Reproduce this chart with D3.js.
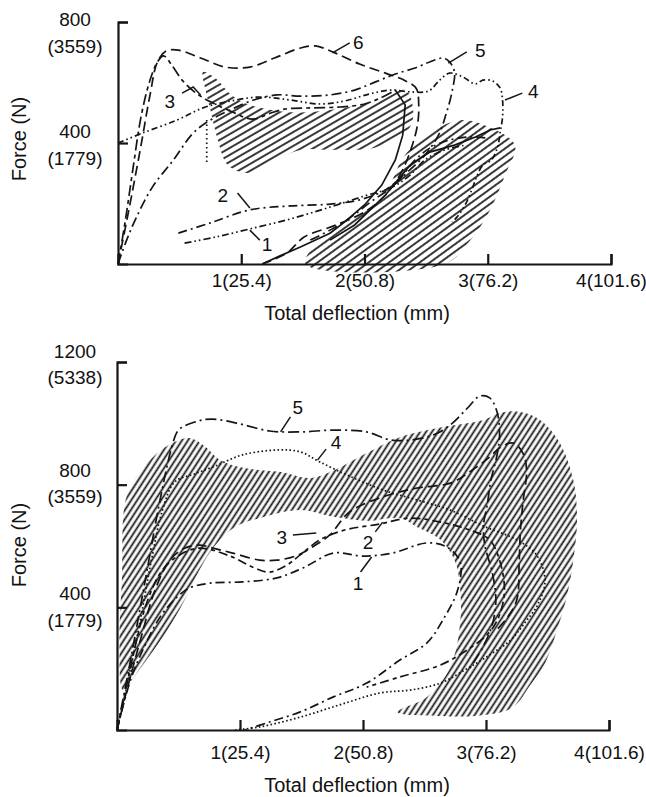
<!DOCTYPE html>
<html><head><meta charset="utf-8">
<script src="https://cdn.jsdelivr.net/npm/d3@7"></script>
<style>
html,body{margin:0;padding:0;background:#fff;}
svg{display:block;}
text{font-family:"Liberation Sans",Arial,Helvetica,sans-serif;fill:#111;}
</style></head><body>
<svg id="fig" width="646" height="797"></svg>
<script>
// ---------- shared axis text ----------
const xTickValues = [1, 2, 3, 4];
const xTickLabels = ["1(25.4)", "2(50.8)", "3(76.2)", "4(101.6)"];
const xTitle = "Total deflection (mm)";
const yTitle = "Force (N)";

// ---------- upper panel: deflection (in), force (lbf) ----------
const upperYTicks = [400, 800];
const upperYLabels = [["400", "(1779)"], ["800", "(3559)"]];

const upper6 = [[0,0],[0.08,162],[0.18,377],[0.26,559],[0.32,668],[0.39,704],[0.49,707],[0.67,681],[0.87,651],[1.07,651],[1.27,681],[1.48,714],[1.60,721],[1.76,698],[1.96,661],[2.17,631],[2.33,606],[2.42,580],[2.44,526],[2.43,460],[2.38,383],[2.30,304],[2.17,228],[2.00,172],[1.77,129],[1.51,89],[1.37,36],[1.17,0]];
const upper5 = [[0,0],[0.07,79],[0.15,155],[0.28,255],[0.45,344],[0.61,433],[0.75,476],[0.91,509],[1.10,542],[1.29,559],[1.48,555],[1.72,559],[1.92,575],[2.09,602],[2.25,628],[2.41,648],[2.53,668],[2.64,681],[2.69,668],[2.73,635],[2.71,569],[2.66,493],[2.60,426],[2.49,360],[2.35,304],[2.21,251],[2.04,202],[1.88,152],[1.72,112],[1.56,79]];
const upper4 = [[0,400],[0.20,433],[0.48,476],[0.69,516],[0.88,536],[1.15,552],[1.40,542],[1.64,529],[1.84,539],[2.04,562],[2.21,575],[2.37,569],[2.52,572],[2.61,608],[2.69,631],[2.80,618],[2.90,595],[2.96,608],[3.04,605],[3.10,582],[3.12,542],[3.12,486],[3.10,433],[3.08,387],[3.03,344],[2.96,327],[2.91,288],[2.87,245],[2.82,198],[2.75,155],[2.71,139]];
const upper3 = [[0,0],[0.06,145],[0.12,311],[0.19,493],[0.26,608],[0.32,668],[0.37,688],[0.44,655],[0.52,608],[0.62,569],[0.75,536],[0.91,506],[1.09,479],[1.22,496],[1.35,512],[1.56,516],[1.80,519],[2.00,529],[2.13,549],[2.25,575]];
const upper3Return = [[2.25,575],[2.33,526],[2.31,426],[2.25,344],[2.14,261],[2.00,195],[1.84,139],[1.72,102],[1.48,56],[1.31,26],[1.17,0]];
const upper2 = [[0.49,102],[0.75,136],[1.07,179],[1.40,192],[1.72,198],[1.96,212],[2.17,245],[2.29,284],[2.41,344],[2.53,383],[2.69,410],[2.86,420],[2.98,417]];
const upper1 = [[0.54,69],[0.79,89],[1.07,116],[1.40,149],[1.72,188],[2.00,225],[2.21,251],[2.37,294],[2.49,344],[2.65,377],[2.82,393]];
const upperTrace = [[1.72,79],[1.92,129],[2.06,185],[2.17,228],[2.27,278],[2.37,327],[2.53,370],[2.73,393],[2.90,420],[3.02,443],[3.10,450]];
const upperDrop = [[0.72,476],[0.72,327]];

// crushed-zone outlines (hatched)
const upperZoneA = [[0.69,635],[0.79,615],[0.92,559],[1.07,526],[1.40,502],[1.72,509],[2.13,542],[2.33,575],[2.39,526],[2.37,453],[2.10,387],[1.74,377],[1.48,377],[1.23,334],[1.05,301],[0.89,327],[0.81,410],[0.75,509],[0.71,575]];
const upperZoneB = [[1.52,0],[1.64,79],[1.91,152],[2.18,245],[2.31,350],[2.45,410],[2.61,453],[2.80,476],[2.99,456],[3.22,393],[3.14,294],[3.02,179],[2.86,79],[2.65,0]];

// ---------- lower panel ----------
const lowerYTicks = [400, 800, 1200];
const lowerYLabels = [["400", "(1779)"], ["800", "(3559)"], ["1200", "(5338)"]];

const lower5 = [[0,0],[0.11,228],[0.23,489],[0.35,750],[0.45,929],[0.50,978],[0.63,1004],[0.77,1014],[1.00,998],[1.24,975],[1.49,972],[1.77,978],[2.03,972],[2.22,946],[2.40,946],[2.59,965],[2.72,998],[2.85,1050],[2.95,1089],[3.03,1083],[3.09,1037],[3.11,962],[3.09,897],[3.04,815],[3.01,734],[2.98,668],[2.99,603],[3.05,515],[3.08,424],[3.05,342],[2.97,267],[2.87,202]];
const lower4 = [[0,0],[0.09,163],[0.19,359],[0.28,554],[0.37,717],[0.47,809],[0.63,835],[0.80,861],[1.02,897],[1.30,913],[1.49,907],[1.65,874],[1.89,828],[2.16,783],[2.44,750],[2.71,717],[2.98,665],[3.25,620],[3.41,571],[3.48,489],[3.42,408],[3.32,352],[3.20,293],[3.03,245],[2.83,196],[2.63,153],[2.38,130],[2.14,121],[1.81,82],[1.49,42],[1.16,10],[0.96,0]];
const lower3 = [[0,0],[0.08,130],[0.19,293],[0.31,457],[0.43,554],[0.55,593],[0.67,603],[0.78,593],[0.94,577],[1.16,554],[1.30,554],[1.45,567],[1.59,597],[1.73,636],[1.89,711],[2.16,760],[2.44,789],[2.71,805],[2.89,848],[3.03,890],[3.11,920],[3.22,936],[3.30,903],[3.33,848],[3.30,740],[3.28,652],[3.27,554],[3.25,424],[3.17,365],[3.07,320]];
const lower2 = [[0,0],[0.07,130],[0.15,277],[0.25,424],[0.37,522],[0.51,571],[0.67,593],[0.92,567],[1.12,528],[1.24,515],[1.37,535],[1.49,571],[1.65,620],[1.85,652],[2.14,672],[2.38,691],[2.63,678],[2.87,652],[3.03,620],[3.11,554],[3.15,457],[3.11,375],[3.03,320],[2.87,267],[2.63,212],[2.30,173],[2.03,140]];
const lower1 = [[0,0],[0.11,163],[0.21,261],[0.35,368],[0.49,434],[0.59,463],[0.76,479],[1.02,483],[1.30,496],[1.51,528],[1.76,577],[2.00,567],[2.24,577],[2.52,610],[2.68,597],[2.79,548],[2.77,457],[2.65,359],[2.52,284],[2.30,228],[2.03,153],[1.76,108],[1.49,59],[1.24,26],[1.04,0]];

const lowerZone = [[0.07,750],[0.17,832],[0.31,897],[0.45,936],[0.59,952],[0.72,923],[0.84,880],[1.04,854],[1.33,841],[1.57,822],[1.77,848],[2.03,903],[2.30,955],[2.65,988],[2.98,1011],[3.11,1034],[3.28,1037],[3.44,1011],[3.60,936],[3.71,815],[3.74,685],[3.71,554],[3.66,440],[3.59,342],[3.48,218],[3.36,147],[3.21,72],[2.91,46],[2.63,46],[2.28,59],[2.52,108],[2.71,205],[2.79,349],[2.79,457],[2.75,548],[2.63,620],[2.44,662],[2.30,691],[2.03,682],[1.76,695],[1.49,717],[1.20,695],[0.96,662],[0.80,603],[0.67,522],[0.55,424],[0.41,326],[0.27,245],[0.15,179],[0.05,130],[0.02,293],[0.04,489]];

// ---------- panel layout ----------
const panels = [
  { xr:[118,611], yr:[264,22], fMax:800, ticks:upperYTicks, tickText:upperYLabels,
    labelShift:[[-12,15],[-3,24]], xPad:10, xTitleY:313, yTitleY:139,
    hatch:[{pts:upperZoneA, angle:30, gap:6, w:1.7},{pts:upperZoneB, angle:36, gap:6, w:1.7}],
    curves:[
      {pts:upper6, dash:"10,5"},
      {pts:upper5, dash:"10,4,2,4"},
      {pts:upper4, dash:"6,3,1.6,3,1.6,3"},
      {pts:upper3, dash:"11,4,4,4"},
      {pts:upper3Return, dash:null, jag:true},
      {pts:upper2, dash:"9,4,2,4"},
      {pts:upper1, dash:"7,3,1.6,3,1.6,3"},
      {pts:upperTrace, dash:null, jag:true},
      {pts:upperDrop, dash:"1.5,3"}
    ],
    notes:[
      {t:"6", at:[1.95,731], lead:[[1.74,698],[1.88,731]]},
      {t:"5", at:[2.94,707], lead:[[2.68,664],[2.83,701]]},
      {t:"4", at:[3.37,569], lead:[[3.14,542],[3.28,565]]},
      {t:"3", at:[0.42,536], lead:[[0.52,565],[0.61,585],[0.67,559]]},
      {t:"2", at:[0.85,228], lead:[[0.97,235],[1.07,185]]},
      {t:"1", at:[1.21,63], lead:[[1.07,112],[1.15,79]]}
    ]},
  { xr:[117,609], yr:[730,362], fMax:1200, ticks:lowerYTicks, tickText:lowerYLabels,
    labelShift:[[-14,13],[-14,12],[-11,15]], xPad:16, xTitleY:785, yTitleY:545,
    hatch:[{pts:lowerZone, angle:57, gap:5, w:1.8}],
    curves:[
      {pts:lower5, dash:"11,4,2,4"},
      {pts:lower4, dash:"1.6,2.4"},
      {pts:lower3, dash:"10,5"},
      {pts:lower2, dash:"9,4,4,4"},
      {pts:lower1, dash:"9,4,2,4"}
    ],
    notes:[
      {t:"5", at:[1.47,1053], lead:[[1.33,972],[1.41,1021]]},
      {t:"4", at:[1.78,936], lead:[[1.63,880],[1.70,916]]},
      {t:"3", at:[1.34,629], lead:[[1.43,636],[1.62,642]]},
      {t:"2", at:[2.04,610], lead:[[2.10,646],[2.16,678]]},
      {t:"1", at:[1.96,479], lead:[[1.98,515],[2.07,564]]}
    ]}
];

const svg = d3.select("#fig");
const defs = svg.append("defs");
const ink = "#151515";
let hatchId = 0;

// parallel-line fill used for the crush zones
function hatchPattern(angle, gap, w) {
  const id = "hatch" + (hatchId++);
  const p = defs.append("pattern").attr("id", id)
    .attr("patternUnits", "userSpaceOnUse")
    .attr("width", 12).attr("height", gap)
    .attr("patternTransform", `rotate(${-angle})`);
  p.append("line").attr("x1", -1).attr("x2", 13)
    .attr("y1", gap / 2).attr("y2", gap / 2)
    .attr("stroke", ink).attr("stroke-width", w);
  return id;
}

panels.forEach(P => {
  const x = d3.scaleLinear().domain([0, 4]).range(P.xr);
  const y = d3.scaleLinear().domain([0, P.fMax]).range(P.yr);
  const g = svg.append("g");

  // hatched crush zones
  const area = d3.line().x(d => x(d[0])).y(d => y(d[1])).curve(d3.curveCatmullRomClosed.alpha(0.5));
  P.hatch.forEach(h => {
    const id = hatchPattern(h.angle, h.gap, h.w);
    g.append("path").attr("d", area(h.pts)).attr("fill", `url(#${id})`);
  });

  // force-deflection traces
  const smooth = d3.line().x(d => x(d[0])).y(d => y(d[1])).curve(d3.curveCatmullRom.alpha(0.5));
  const sharp = d3.line().x(d => x(d[0])).y(d => y(d[1]));
  P.curves.forEach(c => {
    g.append("path").attr("d", (c.jag ? sharp : smooth)(c.pts))
      .attr("fill", "none").attr("stroke", ink)
      .attr("stroke-width", 1.7)
      .attr("stroke-dasharray", c.dash)
      .attr("stroke-linecap", "butt");
  });

  // curve numbers with leader lines
  P.notes.forEach(n => {
    g.append("path").attr("d", sharp(n.lead)).attr("fill", "none")
      .attr("stroke", ink).attr("stroke-width", 1.5);
    g.append("text").attr("x", x(n.at[0])).attr("y", y(n.at[1]))
      .attr("text-anchor", "middle").attr("dominant-baseline", "central")
      .attr("font-size", 19).text(n.t);
  });

  // axes with inward ticks
  const xAxis = d3.axisBottom(x).tickValues(xTickValues)
    .tickFormat((d, i) => xTickLabels[i]).tickSizeInner(-10).tickSizeOuter(-10).tickPadding(P.xPad);
  const gx = g.append("g").attr("transform", `translate(0,${P.yr[0]})`).call(xAxis);
  const yAxis = d3.axisLeft(y).tickValues(P.ticks).tickFormat("")
    .tickSizeInner(-10).tickSizeOuter(-10);
  const gy = g.append("g").attr("transform", `translate(${P.xr[0]},0)`).call(yAxis);
  [gx, gy].forEach(a => {
    a.selectAll("path,line").attr("stroke", ink).attr("stroke-width", 2.2);
    a.selectAll("text").attr("font-size", 19).attr("fill", ink)
      .attr("font-family", '"Liberation Sans",Arial,Helvetica,sans-serif');
  });
  gy.selectAll("text").remove();

  // two-line force labels (lbf over N)
  P.ticks.forEach((v, i) => {
    P.tickText[i].forEach((s, k) => {
      g.append("text").attr("x", 75).attr("y", y(v) + P.labelShift[i][k])
        .attr("text-anchor", "middle").attr("dominant-baseline", "central")
        .attr("font-size", 19).text(s);
    });
  });

  g.append("text").attr("x", 357).attr("y", P.xTitleY)
    .attr("text-anchor", "middle").attr("dominant-baseline", "central")
    .attr("font-size", 20).text(xTitle);
  g.append("text").attr("transform", `translate(19,${P.yTitleY}) rotate(-90)`)
    .attr("text-anchor", "middle").attr("dominant-baseline", "central")
    .attr("font-size", 20).text(yTitle);
});
</script>
</body></html>
